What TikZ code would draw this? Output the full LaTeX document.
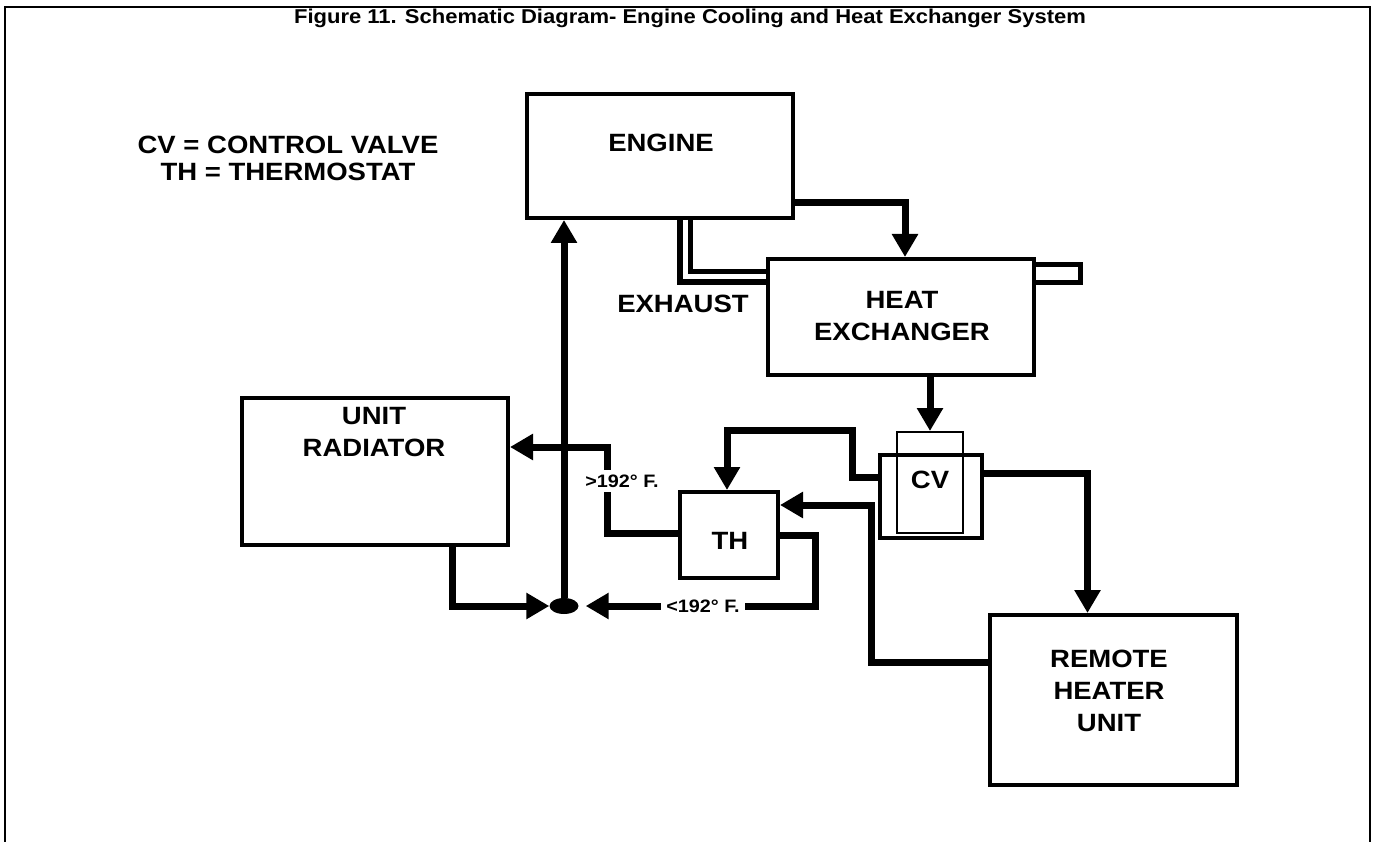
\documentclass[tikz,border=0pt]{standalone}
\usepackage{fontspec}
\setmainfont{Liberation Sans}[FakeStretch=1.1]
\usetikzlibrary{arrows.meta,calc,shapes.geometric}
\begin{document}
\begin{tikzpicture}[x=1pt,y=-1pt,
  box/.style={draw, line width=4pt, inner sep=0pt},
  lab/.style={font=\bfseries\fontsize{25}{32}\selectfont, align=center, inner sep=0pt},
  hdr/.style={font=\bfseries\fontsize{20}{22}\selectfont, inner sep=0pt},
  legend/.style={font=\bfseries\fontsize{25}{27}\selectfont, align=center, inner sep=0pt},
  temp/.style={font=\bfseries\fontsize{18}{20}\selectfont, fill=white, inner sep=5pt},
  flow/.style={line width=7pt, -{Triangle[length=23pt,width=25pt]}},
  frame/.style={line width=2.5pt}]
\useasboundingbox (0,0) rectangle (1376,842);
\draw[frame] (5,842) -- (5,7) -- (1370,7) -- (1370,842);

\node[hdr, anchor=base] (title) at (690,24) {Figure 11. Schematic Diagram- Engine Cooling and Heat Exchanger System};
\node[legend] (leg) at (288,158.5) {CV = CONTROL VALVE\\TH = THERMOSTAT};

% boxes
\node[box, minimum width=266pt, minimum height=124pt] (engine) at (660,156) {};
\node[lab] (enginelab) at (661,143) {ENGINE};
\node[box, minimum width=266pt, minimum height=116pt] (he) at (901,317) {};
\node[lab] (helab) at (902,316) {HEAT\\EXCHANGER};
\node[box, minimum width=266pt, minimum height=147pt] (rad) at (375,471.5) {};
\node[lab] (radlab) at (374,432) {UNIT\\RADIATOR};
\node[box, minimum width=98pt, minimum height=86pt] (th) at (729,535) {};
\node[lab] (thlab) at (730,541) {TH};
\node[box, minimum width=102pt, minimum height=83pt] (cvout) at (931,496.5) {};
\node[draw, line width=2pt, minimum width=66pt, minimum height=101pt, inner sep=0pt] (cvin) at (930,482.5) {};
\node[lab] (cvlab) at (930,480) {CV};
\node[box, minimum width=247pt, minimum height=170pt] (remote) at (1113.5,700) {};
\node[lab] (remlab) at (1109,691) {REMOTE\\HEATER\\UNIT};
\node[ellipse, fill=black, minimum width=29pt, minimum height=16pt, inner sep=0pt] (junc) at (564,606) {};
\node[lab] (exh) at (683,304) {EXHAUST};

% exhaust pipe and tail pipe
\coordinate (exb) at (685,277);
\draw[line width=16pt] ([xshift=25pt]engine.south) |- (he.west |- exb);
\draw[white, line width=5pt] ([xshift=25pt]engine.south) |- (he.west |- exb);
\coordinate (tp) at (1080,283);
\draw[line width=5pt] (he.east |- 0,265) -| (tp) -- (he.east |- tp);

% bend points
\coordinate (cvbend) at (852,430);
\coordinate (rtbend) at (871,505);
\coordinate (hotbend) at (607,447);
\coordinate (coldbend) at (815,606);

% flows
\draw[flow] (engine.east |- 0,203) -| ([xshift=4pt]he.north);
\draw[flow] (cvin.north |- he.south) -- (cvin.north);
\draw[flow] (cvout.west |- 0,477) -| (cvbend) -| ([xshift=-2pt]th.north);
\draw[flow] (cvout.east |- 0,473) -| ([xshift=-26pt]remote.north);
\draw[flow] (remote.west |- 0,662) -| (rtbend) -- (th.east |- rtbend);
\draw[flow] (th.west |- 0,533) -| (hotbend) -- (rad.east |- hotbend);
\draw[flow, shorten >=7pt] (th.east |- 0,535) -| (coldbend) -- (junc.east);
\draw[flow] ([xshift=77pt]rad.south) |- (junc.west);
\draw[flow] (junc.north) -- (engine.south -| junc.north);

% temperature labels
\node[temp] (hot) at (622,481) {>192° F.};
\node[temp] (cold) at (703,606) {<192° F.};
\end{tikzpicture}
\end{document}
